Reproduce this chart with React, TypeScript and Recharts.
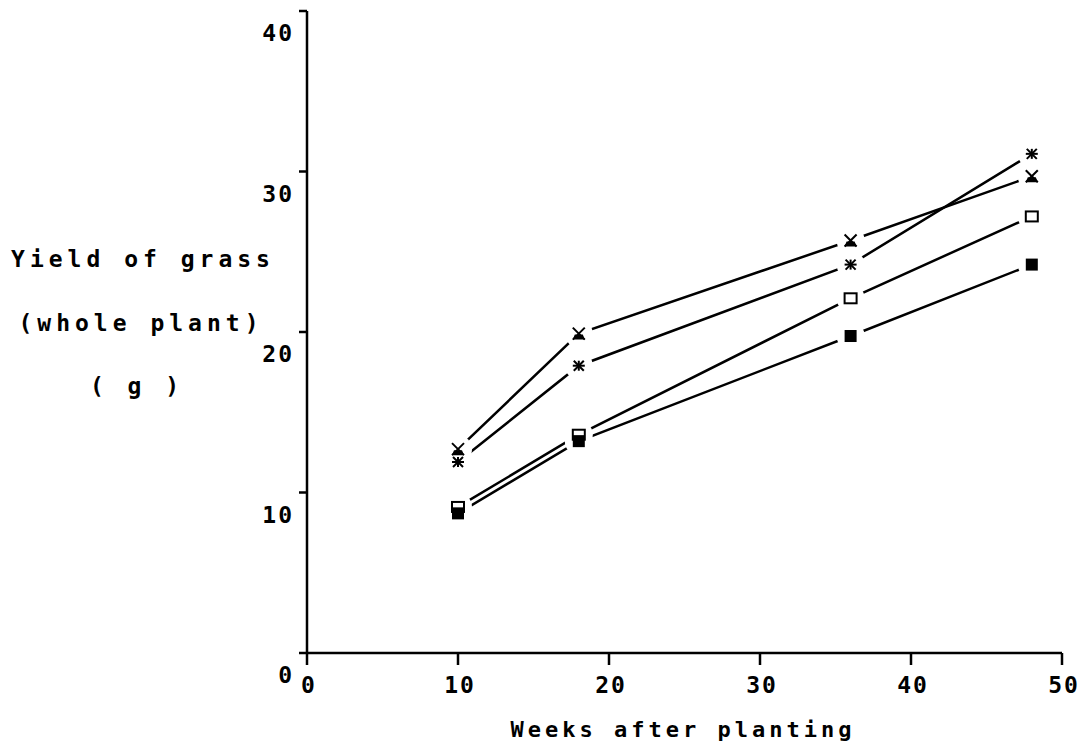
import React from "react";
import { LineChart, Line, XAxis, YAxis } from "recharts";

// weeks after planting and yield (g) for the four treatments
const weeks = [10, 18, 36, 48];
const crossYield = [12.7, 19.9, 25.7, 29.7];
const starYield = [11.9, 17.9, 24.2, 31.1];
const openSquareYield = [9.1, 13.6, 22.1, 27.2];
const filledSquareYield = [8.7, 13.2, 19.75, 24.2];

const xTicks = [0, 10, 20, 30, 40, 50];
const yTicks = [0, 10, 20, 30, 40];

const data = weeks.map((w, i) => ({
  week: w,
  cross: crossYield[i],
  star: starYield[i],
  openSq: openSquareYield[i],
  filledSq: filledSquareYield[i],
  crossMask: crossYield[i],
  starMask: starYield[i],
  openSqMask: openSquareYield[i],
  filledSqMask: filledSquareYield[i],
  crossDot: crossYield[i],
  starDot: starYield[i],
  openSqDot: openSquareYield[i],
  filledSqDot: filledSquareYield[i],
}));

const FONT = "'DejaVu Sans Mono', monospace";

const maskDot = (props: any) => (
  <circle key={`m-${props.index}`} cx={props.cx} cy={props.cy} r={14} fill="rgb(255,255,255)" />
);

const crossDot = (props: any) => {
  const { cx, cy, index } = props;
  return (
    <g key={`c-${index}`} stroke="#000" strokeWidth={2}>
      <line x1={cx - 6} y1={cy - 6} x2={cx + 6} y2={cy + 6} />
      <line x1={cx + 6} y1={cy - 6} x2={cx - 6} y2={cy + 6} />
      <path d={`M${cx - 4},${cy + 1} L${cx + 4},${cy + 1} L${cx + 6},${cy + 6} L${cx - 6},${cy + 6} Z`} fill="#000" stroke="none" />
    </g>
  );
};

const starDot = (props: any) => {
  const { cx, cy, index } = props;
  return (
    <g key={`s-${index}`} stroke="#000" strokeWidth={2}>
      <line x1={cx - 6} y1={cy} x2={cx + 6} y2={cy} />
      <line x1={cx} y1={cy - 5} x2={cx} y2={cy + 5} />
      <line x1={cx - 5} y1={cy - 5} x2={cx + 5} y2={cy + 5} />
      <line x1={cx + 5} y1={cy - 5} x2={cx - 5} y2={cy + 5} />
    </g>
  );
};

const openSqDot = (props: any) => {
  const { cx, cy, index } = props;
  return (
    <rect key={`o-${index}`} x={cx - 6} y={cy - 5} width={12} height={10} fill="#fff" stroke="#000" strokeWidth={2} />
  );
};

const filledSqDot = (props: any) => {
  const { cx, cy, index } = props;
  return <rect key={`f-${index}`} x={cx - 6} y={cy - 6} width={12} height={12} fill="#000" />;
};

const XTick = (props: any) => {
  const { x, y, payload } = props;
  return (
    <text x={x + 2} y={y + 28} textAnchor="middle" fontFamily={FONT} fontWeight="bold" fontSize={23} letterSpacing={2} fill="#000">
      {payload.value}
    </text>
  );
};

const YTick = (props: any) => {
  const { x, y, payload } = props;
  return (
    <text x={x - 5} y={y + 30} textAnchor="end" fontFamily={FONT} fontWeight="bold" fontSize={23} letterSpacing={2} fill="#000">
      {payload.value}
    </text>
  );
};

const YTitle = () => (
  <g fontFamily={FONT} fontWeight="bold" fontSize={23} letterSpacing={5} fill="#000">
    <text x={143} y={267} textAnchor="middle">Yield of grass</text>
    <text x={141} y={331} textAnchor="middle">(whole plant)</text>
    <text x={137} y={394} textAnchor="middle">( g )</text>
  </g>
);

const XTitle = () => (
  <text x={683} y={737} textAnchor="middle" fontFamily={FONT} fontWeight="bold" fontSize={22} letterSpacing={4} fill="#000">
    Weeks after planting
  </text>
);

export default function App() {
  return (
    <div style={{ position: "absolute", left: 0, top: 0, background: "#fff" }}>
      <LineChart width={1083} height={745} data={data} margin={{ top: 11, right: 21, left: 0, bottom: 0 }}>
        <XAxis
          dataKey="week"
          type="number"
          domain={[0, 50]}
          ticks={xTicks}
          height={92}
          tickSize={12}
          tickMargin={0}
          axisLine={{ stroke: "#000", strokeWidth: 2.5 }}
          tickLine={{ stroke: "#000", strokeWidth: 2.5 }}
          tick={<XTick />}
          label={{ content: <XTitle /> }}
        />
        <YAxis
          type="number"
          domain={[0, 40]}
          ticks={yTicks}
          width={307}
          tickSize={8}
          tickMargin={0}
          axisLine={{ stroke: "#000", strokeWidth: 2.5 }}
          tickLine={{ stroke: "#000", strokeWidth: 2.5 }}
          tick={<YTick />}
          label={{ content: <YTitle /> }}
        />
        <Line dataKey="cross" stroke="#000" strokeWidth={2.5} dot={false} isAnimationActive={false} />
        <Line dataKey="star" stroke="#000" strokeWidth={2.5} dot={false} isAnimationActive={false} />
        <Line dataKey="openSq" stroke="#000" strokeWidth={2.5} dot={false} isAnimationActive={false} />
        <Line dataKey="filledSq" stroke="#000" strokeWidth={2.5} dot={false} isAnimationActive={false} />
        <Line dataKey="crossMask" stroke="none" dot={maskDot} isAnimationActive={false} />
        <Line dataKey="starMask" stroke="none" dot={maskDot} isAnimationActive={false} />
        <Line dataKey="openSqMask" stroke="none" dot={maskDot} isAnimationActive={false} />
        <Line dataKey="filledSqMask" stroke="none" dot={maskDot} isAnimationActive={false} />
        <Line dataKey="crossDot" stroke="none" dot={crossDot} isAnimationActive={false} />
        <Line dataKey="starDot" stroke="none" dot={starDot} isAnimationActive={false} />
        <Line dataKey="openSqDot" stroke="none" dot={openSqDot} isAnimationActive={false} />
        <Line dataKey="filledSqDot" stroke="none" dot={filledSqDot} isAnimationActive={false} />
      </LineChart>
    </div>
  );
}
